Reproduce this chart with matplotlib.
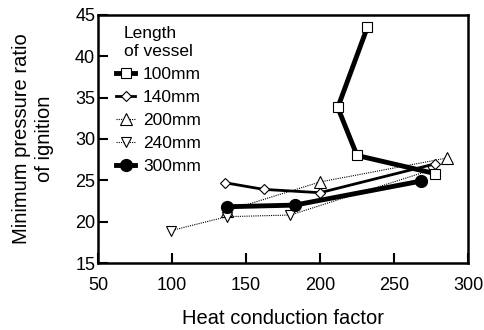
import matplotlib
matplotlib.use("Agg")
import matplotlib.pyplot as plt

plt.rcParams['font.family'] = ['Liberation Sans', 'DejaVu Sans']

x_100 = [232, 212, 225, 278]
y_100 = [43.5, 33.8, 28.0, 25.8]
x_140 = [136, 162, 200, 278]
y_140 = [24.7, 23.9, 23.5, 27.0]
x_200 = [137, 200, 286]
y_200 = [21.3, 24.8, 27.7]
x_240 = [99, 137, 180, 276]
y_240 = [18.9, 20.6, 20.8, 26.3]
x_300 = [137, 183, 268]
y_300 = [21.8, 22.0, 24.9]

xticks = [50, 100, 150, 200, 250, 300]
yticks = [15, 20, 25, 30, 35, 40, 45]

fig = plt.figure(figsize=(4.85, 3.3), dpi=100)
ax = fig.add_axes([0.202, 0.203, 0.763, 0.752])

ax.plot(x_100, y_100, color='black', lw=3.5, marker='s', ms=7.5,
        mfc='white', mec='black', mew=0.8, label='100mm', zorder=5)
ax.plot(x_140, y_140, color='black', lw=2, marker='D', ms=5,
        mfc='white', mec='black', mew=0.8, label='140mm', zorder=4)
ax.plot(x_200, y_200, color='black', lw=0.8, ls=(0, (1, 1)), marker='^', ms=8,
        mfc='white', mec='black', mew=0.8, label='200mm', zorder=3)
ax.plot(x_240, y_240, color='black', lw=0.8, ls=(0, (1, 1)), marker='v', ms=7,
        mfc='white', mec='black', mew=0.8, label='240mm', zorder=3)
ax.plot(x_300, y_300, color='black', lw=3.5, marker='o', ms=8.5,
        mfc='black', mec='black', label='300mm', zorder=6)

ax.set_xlim(50, 300)
ax.set_ylim(15, 45)
ax.set_xticks(xticks)
ax.set_yticks(yticks)
ax.tick_params(direction='in', length=7, width=1.5, labelsize=13)
ax.tick_params(axis='x', pad=10)
ax.tick_params(axis='y', pad=2)
for s in ax.spines.values():
    s.set_linewidth(1.8)

ax.set_xlabel('Heat conduction factor', fontsize=14.5, labelpad=11)
ax.set_ylabel('Minimum pressure ratio\nof ignition', fontsize=14.5, labelpad=15,
              linespacing=1.3)

leg = ax.legend(title='Length\nof vessel', loc='upper left', frameon=False,
                fontsize=12.5, title_fontsize=12.5, handlelength=1.1,
                handletextpad=0.45, labelspacing=0.45, borderaxespad=0.0,
                bbox_to_anchor=(0.03, 0.985))
leg.get_title().set_linespacing(1.3)

fig.savefig('out.png', dpi=100)
